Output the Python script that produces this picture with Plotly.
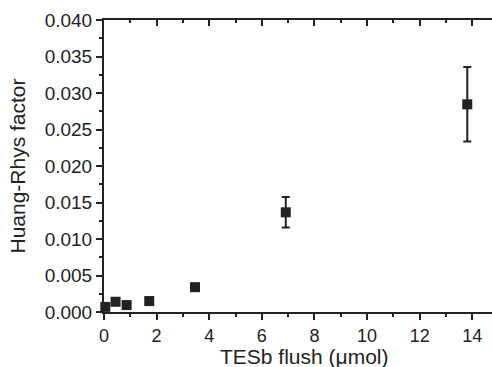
import plotly.graph_objects as go

flush = [0.05, 0.44, 0.86, 1.72, 3.46, 6.91, 13.81]
hr = [0.0007, 0.0014, 0.00095, 0.0015, 0.0034, 0.01366, 0.02845]
hr_err = [0.0002, 0.0003, 0.0003, 0.0003, 0.0004, 0.0021, 0.0051]

x_title = "TESb flush (μmol)"
y_title = "Huang-Rhys factor"

ink = "#222222"
font = dict(family="Liberation Sans, Arial, sans-serif", color=ink)

fig = go.Figure()
fig.add_trace(go.Scatter(
    x=flush, y=hr, mode="markers",
    marker=dict(symbol="square", size=10, color=ink),
    error_y=dict(type="data", array=hr_err, visible=True, color=ink, thickness=2, width=4),
    cliponaxis=False, showlegend=False,
))
fig.add_trace(go.Scatter(x=[0], y=[0], xaxis="x2", mode="markers",
                         marker=dict(opacity=0), hoverinfo="skip", showlegend=False))

fig.update_layout(
    width=492, height=367,
    margin=dict(l=104, r=0, t=20, b=55),
    paper_bgcolor="white", plot_bgcolor="white",
    font=dict(size=19, **font),
    xaxis=dict(
        range=[0, 14.75], tickmode="linear", tick0=0, dtick=2,
        showgrid=False, zeroline=False,
        showline=True, linecolor=ink, linewidth=2,
        ticks="outside", ticklen=6, tickwidth=2, tickcolor=ink,
        minor=dict(dtick=1, ticks="outside", ticklen=3, tickwidth=2, tickcolor=ink, showgrid=False),
        tickfont=dict(size=18, **font),
    ),
    xaxis2=dict(
        range=[0, 14.75], overlaying="x", side="top", tickmode="linear", tick0=0, dtick=2,
        showgrid=False, zeroline=False, showticklabels=False,
        showline=True, linecolor=ink, linewidth=2,
        ticks="inside", ticklen=6, tickwidth=2, tickcolor=ink,
        minor=dict(dtick=1, ticks="inside", ticklen=3, tickwidth=2, tickcolor=ink, showgrid=False),
    ),
    yaxis=dict(
        range=[0, 0.040], tickmode="linear", tick0=0, dtick=0.005, tickformat=".3f",
        showgrid=False, zeroline=False,
        showline=True, linecolor=ink, linewidth=2,
        ticks="outside", ticklen=6, tickwidth=2, tickcolor=ink,
        minor=dict(dtick=0.0025, ticks="outside", ticklen=3, tickwidth=2, tickcolor=ink, showgrid=False),
        title=dict(text=y_title, font=dict(size=21, **font), standoff=13),
        tickfont=dict(size=19, **font),
    ),
    annotations=[dict(
        text=x_title, xref="paper", yref="paper", x=0.515, y=-0.196,
        xanchor="center", yanchor="bottom", showarrow=False, borderpad=0,
        font=dict(size=21, **font),
    )],
)

fig.write_html("out.html")
